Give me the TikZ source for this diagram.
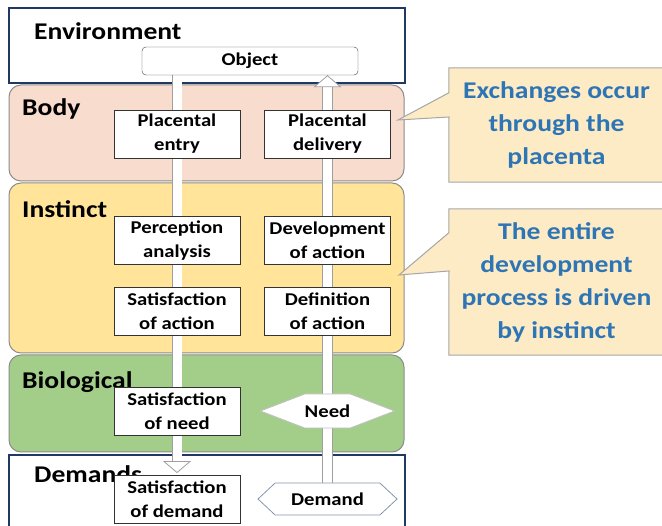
\documentclass[tikz,border=0pt]{standalone}
\usepackage{fontspec}
\setmainfont{Carlito}[FakeStretch=1.15]
\usetikzlibrary{arrows.meta,shapes.symbols,positioning}
\definecolor{navy}{RGB}{32,56,100}
\definecolor{bodyfill}{RGB}{248,220,206}
\definecolor{instfill}{RGB}{255,228,153}
\definecolor{biofill}{RGB}{163,206,137}
\definecolor{notefill}{RGB}{253,235,197}
\definecolor{notetext}{RGB}{46,117,182}
\definecolor{bandline}{RGB}{140,140,140}
\definecolor{tagline}{RGB}{132,151,176}
\pgfdeclarelayer{back}
\pgfdeclarelayer{flow}
\pgfsetlayers{back,flow,main}

\begin{document}
\begin{tikzpicture}[x=1pt,y=-1pt,
    band/.style={draw=bandline,line width=1pt,rounded corners=12pt,minimum width=395pt},
    frame/.style={draw=navy,line width=2pt,fill=white,minimum width=396pt},
    lbl/.style={anchor=base west,inner sep=0pt,font=\fontsize{24}{28}\selectfont\bfseries},
    stage/.style={draw=black!80,fill=white,line width=0.8pt,minimum width=126pt,minimum height=48pt,inner sep=1pt,align=center,font=\fontsize{18}{24}\selectfont\bfseries},
    tag/.style={signal,signal to=west and east,fill=white,line width=0.8pt,minimum height=34pt,inner ysep=2pt,font=\fontsize{18}{22}\selectfont\bfseries},
    fat/.style={draw=gray!75,line width=0.8pt,double=white,double distance=9pt,-{Triangle[open,fill=white,width=28pt,length=12pt]}},
    note/.style={text=notetext,align=center,inner sep=0pt,minimum width=215pt,font=\fontsize{24}{33}\selectfont\bfseries},
    noteline/.style={draw=gray!70,line width=1pt,fill=notefill}]
  \useasboundingbox (0,0) rectangle (662,526);

  \begin{pgfonlayer}{back}
    \node[frame,minimum height=75pt] (env) at (207,45.5) {};
    \node[band,fill=bodyfill,minimum height=96pt] (body) at (206.5,133) {};
    \node[band,fill=instfill,minimum height=170pt] (inst) at (206.5,268) {};
    \node[band,fill=biofill,minimum height=97pt] (bio) at (206.5,403.5) {};
    \node[frame,minimum height=80pt] (dem) at (207,495) {};
    \node[lbl] (envlbl) at (34,40) {Environment};
    \node[lbl] (bodylbl) at (22,116) {Body};
    \node[lbl] (instlbl) at (22,218) {Instinct};
    \node[lbl] (biolbl) at (22,389) {Biological};
    \node[lbl] (demlbl) at (34,483) {Demands};
  \end{pgfonlayer}

  \node[draw=black!75,fill=white,rounded corners=4pt,minimum width=216pt,minimum height=28pt,inner sep=0pt,font=\fontsize{18}{22}\selectfont\bfseries] (obj) at (250,61) {Object};

  % left column goes down, right column goes up
  \node[stage] (entry) at (177,134) {Placental\\ entry};
  \node[stage] (perc) at (177,240.5) {Perception\\ analysis};
  \node[stage] (satact) at (177,311) {Satisfaction\\ of action};
  \node[stage] (satneed) at (177,411.5) {Satisfaction\\ of need};
  \node[stage] (satdem) at (177,499.5) {Satisfaction\\ of demand};

  \node[stage] (deliv) at (327.5,134) {Placental\\ delivery};
  \node[stage] (devact) at (327.5,240.5) {Development\\ of action};
  \node[stage] (defact) at (327.5,311) {Definition\\ of action};
  \node[tag,draw=gray!50,signal pointer angle=42,inner xsep=0pt] (need) at (327.5,411) {Need};
  \node[tag,draw=tagline,signal pointer angle=86,minimum height=32pt,inner xsep=16pt] (demand) at (327.5,499) {Demand};

  \begin{pgfonlayer}{flow}
    \draw[fat,shorten >=2pt] (obj.south -| entry) -- (satdem.north);
    \draw[fat] (demand.north) -- (obj.south -| deliv);
  \end{pgfonlayer}

  % callouts
  \coordinate (tip1) at (398,120);
  \coordinate (tip2) at (399,275);
  \node[note,minimum height=114pt] (exch) at (556.5,125) {Exchanges occur\\ through the\\ placenta};
  \node[note,minimum height=146pt] (drive) at (556.5,282) {The entire\\ development\\ process is driven\\ by instinct};
  \begin{pgfonlayer}{back}
    \draw[noteline] (exch.north east) -- (exch.north west) -- ++(0,25) -- (tip1) -- ++(51,-3) -- (exch.south west) -- (exch.south east);
    \draw[noteline] (drive.north east) -- (drive.north west) -- ++(0,24) -- (tip2) -- ++(50,-4) -- (drive.south west) -- (drive.south east);
  \end{pgfonlayer}
\end{tikzpicture}
\end{document}
